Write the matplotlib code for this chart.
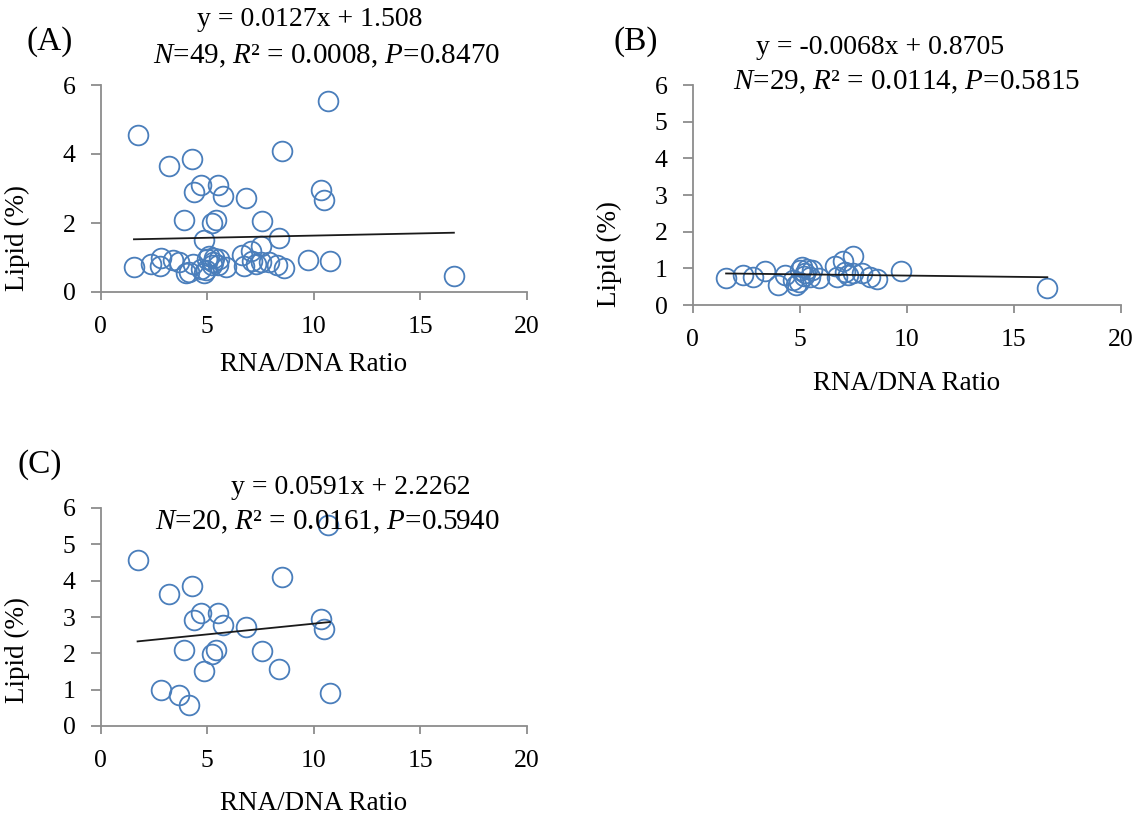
import matplotlib
matplotlib.use('Agg')
import matplotlib.pyplot as plt
import numpy as np

plt.rcParams['font.family'] = ['Liberation Serif', 'DejaVu Serif']
plt.rcParams['mathtext.fontset'] = 'custom'
plt.rcParams['mathtext.rm'] = 'Liberation Serif'
plt.rcParams['mathtext.it'] = 'Liberation Serif:italic'

# Panel B: low-lipid group
ratio_b = [1.56, 2.37, 2.80, 3.38, 4.00, 4.31, 4.70, 4.83, 4.95, 5.01, 5.09, 5.20, 5.25, 5.33,
           5.48, 5.56, 5.90, 6.65, 6.73, 7.04, 7.12, 7.27, 7.50, 7.50, 7.89, 8.29, 8.60, 9.73, 16.57]
lipid_b = [0.73, 0.81, 0.76, 0.94, 0.55, 0.82, 0.68, 0.55, 0.63, 0.95, 1.04, 0.78, 0.86, 0.99,
           0.77, 0.95, 0.73, 1.07, 0.76, 1.20, 0.90, 0.81, 1.33, 0.86, 0.86, 0.77, 0.70, 0.93, 0.47]

# Panel C: high-lipid group
ratio_c = [1.73, 3.22, 4.29, 8.49, 10.65, 4.70, 4.37, 5.51, 5.75, 6.80, 10.33, 10.47, 3.91, 5.41,
           5.23, 7.56, 4.86, 8.36, 2.81, 3.69, 4.15, 10.75]
lipid_c = [4.56, 3.64, 3.85, 4.10, 5.53, 3.10, 2.91, 3.10, 2.77, 2.73, 2.95, 2.68, 2.08, 2.10,
           1.99, 2.07, 1.51, 1.57, 0.99, 0.86, 0.57, 0.90]

# Panel A: all samples
ratio_a = ratio_b + ratio_c
lipid_a = lipid_b + lipid_c

panel_letters = ['(A)', '(B)', '(C)']
slopes = [0.0127, -0.0068, 0.0591]
intercepts = [1.508, 0.8705, 2.2262]
eq_texts = ['y = 0.0127x + 1.508', 'y = -0.0068x + 0.8705', 'y = 0.0591x + 2.2262']
stat_texts = [r'$N$=49, $R$² = 0.0008, $P$=0.8470',
              r'$N$=29, $R$² = 0.0114, $P$=0.5815',
              r'$N$=20, $R$² = 0.0161, $P$=0.5940']
y_ticks = [[0, 2, 4, 6], [0, 1, 2, 3, 4, 5, 6], [0, 1, 2, 3, 4, 5, 6]]
x_ticks = [0, 5, 10, 15, 20]

W, H = 1140, 818
fig = plt.figure(figsize=(W / 100, H / 100), dpi=100)

def box(l, t, r, b):
    return [l / W, 1 - b / H, (r - l) / W, (b - t) / H]

axes_boxes = [box(100.7, 85, 527, 292), box(692.7, 85, 1120.7, 305), box(100.7, 508, 527, 726)]
letter_pos = [(50, 42), (636, 42), (40, 465)]
eq_pos = [(310, 20), (880, 48), (351, 488)]
stat_pos = [(327, 56), (907, 82), (327, 522)]
ylabel_y = [0.26, 0.23, 0.35]
xlabel_y = [-0.29, -0.30, -0.30]

datasets = [(ratio_a, lipid_a), (ratio_b, lipid_b), (ratio_c, lipid_c)]
spine_col = '#8c8c8c'
pt_col = '#4a7ebb'

for i in range(3):
    ax = fig.add_axes(axes_boxes[i])
    xs, ys = datasets[i]
    ax.plot(xs, ys, 'o', ms=14.2, mfc='none', mec=pt_col, mew=1.3, clip_on=False, zorder=3)
    xl = np.array([min(xs), max(xs)])
    ax.plot(xl, slopes[i] * xl + intercepts[i], color='#1a1a1a', lw=1.3, zorder=4)
    ax.set_xlim(0, 20)
    ax.set_ylim(0, 6)
    ax.set_xticks(x_ticks)
    ax.set_yticks(y_ticks[i])
    for s in ['top', 'right']:
        ax.spines[s].set_visible(False)
    for s in ['left', 'bottom']:
        ax.spines[s].set_color(spine_col)
        ax.spines[s].set_linewidth(1.3)
    ax.tick_params(axis='both', colors=spine_col, labelcolor='black', labelsize=18.5,
                   width=1.3, direction='out', pad=11)
    ax.tick_params(axis='y', length=7)
    ax.tick_params(axis='x', length=6)
    ax.set_xlabel('RNA/DNA Ratio', fontsize=19.5)
    ax.set_ylabel('Lipid (%)', fontsize=19.5)
    ax.xaxis.set_label_coords(0.5, xlabel_y[i])
    ax.yaxis.set_label_coords(-0.165, ylabel_y[i])
    fig.text(letter_pos[i][0] / W, 1 - letter_pos[i][1] / H, panel_letters[i],
             fontsize=24, ha='center', va='center')
    fig.text(eq_pos[i][0] / W, 1 - eq_pos[i][1] / H, eq_texts[i],
             fontsize=20, ha='center', va='center')
    fig.text(stat_pos[i][0] / W, 1 - stat_pos[i][1] / H, stat_texts[i],
             fontsize=21, ha='center', va='center')

fig.savefig('out.png', dpi=100, facecolor='white')
